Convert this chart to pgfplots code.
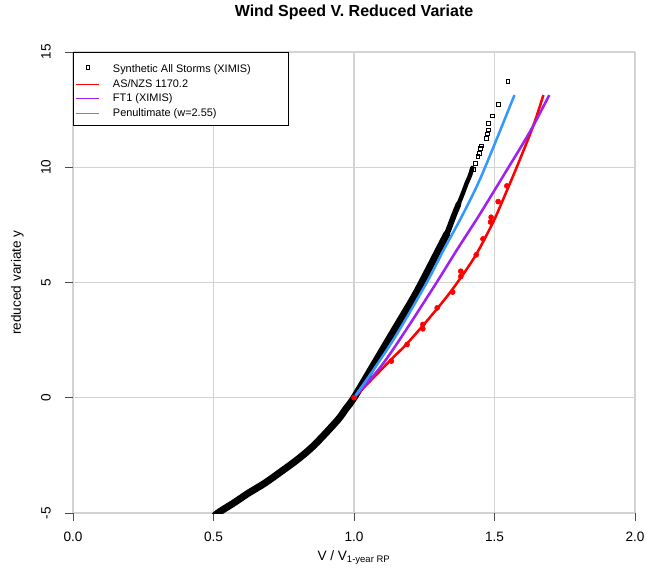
\documentclass[border=0pt]{standalone}
\usepackage{fontspec}
\setmainfont{Liberation Sans}
\usepackage{pgfplots}
\pgfplotsset{compat=1.18}
\definecolor{ftpurple}{HTML}{A020F0}
\definecolor{penblue}{HTML}{3399FF}
\definecolor{gridgray}{HTML}{D3D3D3}

\begin{document}
\begin{tikzpicture}
\begin{axis}[
  name=ax,
  scale only axis,
  width=421.5pt, height=345.75pt,
  xmin=0, xmax=2, ymin=-5, ymax=15,
  xtick={0,0.5,1,1.5,2},
  ytick={-5,0,5,10,15},
  axis line style={draw=none},
  grid=major,
  major grid style={gridgray, line width=0.8pt},
  tick pos=left,
  tick align=outside,
  major tick length=6pt,
  tick style={black!70, line width=0.6pt},
  /pgf/number format/assume math mode=true,
  ticklabel style={font=\fontsize{10.2}{12}\selectfont},
  xticklabel style={/pgf/number format/.cd, fixed, fixed zerofill, precision=1},
  xticklabel shift=4.5pt,
  yticklabel style={rotate=90, anchor=south, inner sep=0pt},
  yticklabel shift=10.5pt,
  title={\textbf{Wind Speed V. Reduced Variate}},
  title style={at={(axis description cs:0.5,1.0586)}, anchor=base, yshift=0pt, font=\fontsize{12}{14}\selectfont},
  xlabel={V / V\textsubscript{1-year RP}},
  every axis x label/.style={at={(axis description cs:0.5,-0.102)}, anchor=base, font=\fontsize{10.2}{12}\selectfont},
  ylabel={reduced variate y},
  every axis y label/.style={at={(axis description cs:-0.0989,0.5)}, anchor=center, rotate=90, font=\fontsize{10.2}{12}\selectfont},
  legend style={at={(axis description cs:0,1)}, anchor=north west, draw=black, line width=0.6pt,
    font=\fontsize{8.2}{10}\selectfont, inner xsep=2pt, inner ysep=4pt, column sep=8pt,
    nodes={inner ysep=1.7pt}},
  legend cell align=left,
]
% legend entries
\addlegendimage{only marks, mark=square, mark size=1.4pt, draw=black, line width=0.5pt}
\addlegendentry{\rule{0pt}{9.5pt}Synthetic All Storms (XIMIS)\rule{24pt}{0pt}}
\addlegendimage{draw=red, line width=0.6pt}
\addlegendentry{AS/NZS 1170.2}
\addlegendimage{draw=ftpurple, line width=0.6pt}
\addlegendentry{FT1 (XIMIS)}
\addlegendimage{draw=penblue, line width=0.6pt}
\addlegendentry{Penultimate (w=2.55)}

% synthetic storms: dense band, thinning towards the top
\addplot[forget plot, black, line width=5.3pt, line cap=round, smooth] coordinates {
 (0.505,-5.1) (0.524,-4.93) (0.574,-4.55) (0.624,-4.14) (0.682,-3.71)
 (0.741,-3.20) (0.800,-2.67) (0.859,-2.05) (0.941,-0.98) (0.970,-0.50)
 (1.000,0.00) (1.065,1.33) (1.135,2.77) (1.206,4.22) (1.241,5.00)
 (1.300,6.39) (1.330,7.10)
};
\addplot[forget plot, black, line width=4.3pt, line cap=round, smooth] coordinates {
 (1.300,6.39) (1.330,7.10) (1.353,7.83) (1.372,8.40)
};
\addplot[forget plot, black, line width=3.3pt, line cap=round, smooth] coordinates {
 (1.353,7.83) (1.372,8.40) (1.390,8.95) (1.400,9.28) (1.412,9.62) (1.421,9.97)
};
% synthetic storms: sparse upper tail
\addplot[forget plot, only marks, mark=square, mark size=1.4pt, black, line width=0.5pt] coordinates {
 (1.426,9.91) (1.433,10.17) (1.441,10.46) (1.445,10.61) (1.449,10.83)
 (1.454,10.93) (1.471,11.26) (1.474,11.45) (1.479,11.62) (1.479,11.91)
 (1.492,12.23) (1.514,12.74) (1.547,13.72)
};

% AS/NZS 1170.2
\addplot[forget plot, red, line width=1.9pt, smooth] coordinates {
 (1.000,0.00) (1.129,1.62) (1.188,2.34) (1.271,3.50) (1.347,4.65)
 (1.429,6.10) (1.492,7.54) (1.520,8.30) (1.579,10.00) (1.638,11.80) (1.674,13.13)
};
\addplot[forget plot, only marks, red, mark=*, mark size=1.9pt] coordinates {
 (1.000,0.00) (1.133,1.59) (1.189,2.31) (1.245,2.99) (1.245,3.18) (1.296,3.90)
 (1.351,4.58) (1.380,5.26) (1.380,5.49) (1.435,6.20) (1.459,6.89)
 (1.486,7.62) (1.488,7.83) (1.513,8.51) (1.544,9.19)
};

% FT1 (XIMIS)
\addplot[forget plot, ftpurple, line width=1.9pt, smooth] coordinates {
 (1.000,0.00) (1.094,1.33) (1.176,2.77) (1.294,5.00) (1.365,6.39)
 (1.441,7.83) (1.500,9.00) (1.550,10.00) (1.600,11.00) (1.638,11.80) (1.695,13.13)
};

% Penultimate
\addplot[forget plot, penblue, line width=1.9pt, smooth] coordinates {
 (1.000,0.00) (1.076,1.33) (1.153,2.77) (1.259,5.00) (1.318,6.39)
 (1.382,7.83) (1.441,9.28) (1.491,10.72) (1.571,13.13)
};
\end{axis}
\pgfresetboundingbox
\path ([shift={(-54.75pt,-46.5pt)}]ax.south west) rectangle ([shift={(8.25pt,39pt)}]ax.north east);
\end{tikzpicture}
\end{document}
